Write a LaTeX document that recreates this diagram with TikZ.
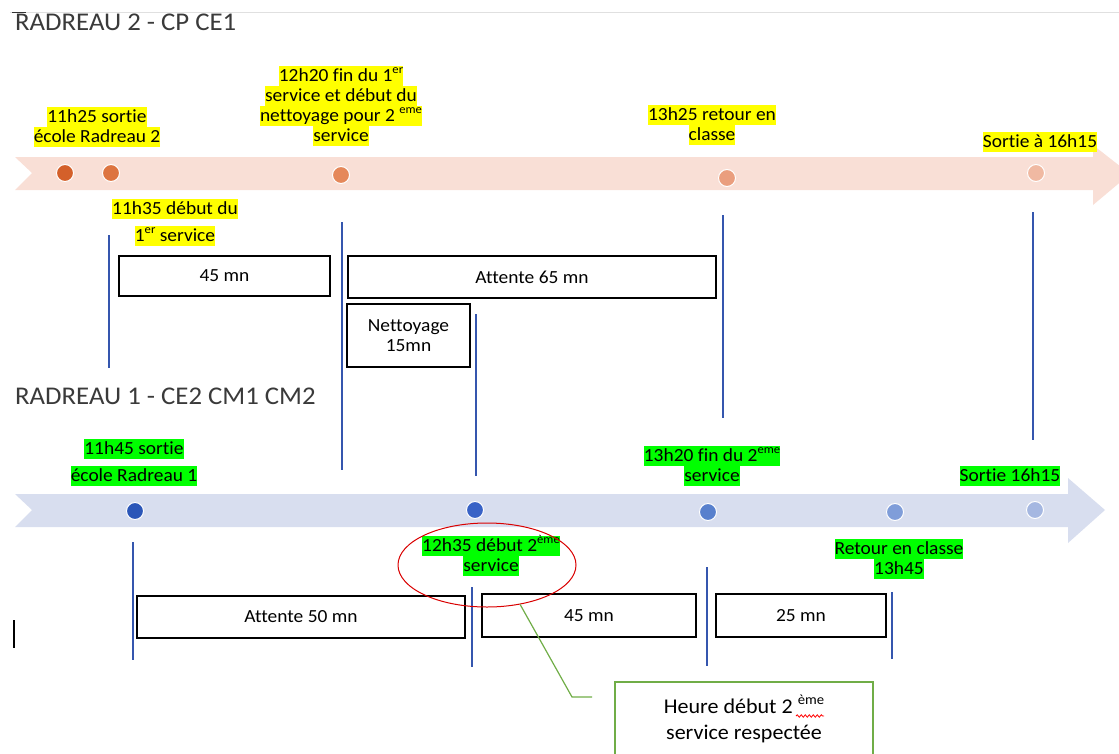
\documentclass[tikz,border=0pt]{standalone}
\usepackage{fontspec}
\setmainfont{Carlito}[Ligatures={NoCommon}, FakeStretch=1.05]
\usetikzlibrary{shapes.geometric,decorations.pathmorphing}
\definecolor{bandO}{HTML}{F9DFD6}
\definecolor{bandB}{HTML}{D8DEEF}
\definecolor{hlY}{HTML}{FFFF00}
\definecolor{hlG}{HTML}{00FF00}
\definecolor{vblue}{HTML}{3556AE}
\definecolor{cgreen}{HTML}{70AD47}
\definecolor{titlegray}{HTML}{3A3A3A}
\newcommand\lblfont{\fontsize{18.5}{20}\selectfont}
\newcommand\supr[1]{\raisebox{0.42em}{\fontsize{12}{12}\selectfont #1}}
\newcommand\suprbig[1]{\raisebox{0.42em}{\fontsize{14}{14}\selectfont #1}}
\newcommand\hly[1]{{\setlength{\fboxsep}{0pt}\colorbox{hlY}{\rule[-4.5pt]{0pt}{20pt}#1}}}
\newcommand\hlg[1]{{\setlength{\fboxsep}{0pt}\colorbox{hlG}{\rule[-4.5pt]{0pt}{20pt}#1}}}
\tikzset{
  lbl/.style={align=center, inner sep=0pt, font=\lblfont},
  ttl/.style={anchor=base west, inner sep=0pt, font=\fontsize{25.5}{28}\selectfont, text=titlegray},
  dot/.style={circle, minimum size=17pt, inner sep=0pt, draw=white, line width=1pt},
  vl/.style={draw=vblue, line width=1.3pt},
  dur/.style={draw=black, line width=1.2pt, fill=white, inner sep=0pt, font=\lblfont, align=center}
}
\begin{document}
\begin{tikzpicture}[x=1pt,y=-1pt]
\useasboundingbox (0,0) rectangle (1119,753);
\clip (0,0) rectangle (1119,753);
% top faint line
\draw[color=black!12, line width=1pt] (10,12) -- (1119,12);
\draw[color=black!80, line width=1pt] (12,12) -- (26,12);

% titles
\node[ttl] (t2) at (15,30) {RADREAU 2 - CP CE1};
\node[ttl] (t1) at (15,404) {RADREAU 1 - CE2 CM1 CM2};

% arrows (bands)
\fill[bandO] (15,157) -- (1093,157) -- (1093,145) -- (1130,174) -- (1093,205) -- (1093,190) -- (15,190) -- (32,173) -- cycle;
\fill[bandB] (15,494) -- (1068,494) -- (1068,478) -- (1105,510) -- (1068,543) -- (1068,527) -- (15,527) -- (32,510) -- cycle;

% dots top
\node[dot, fill={rgb,255:red,212;green,96;blue,42}] (a1) at (65,173) {};
\node[dot, fill={rgb,255:red,221;green,116;blue,64}] (a2) at (111,173) {};
\node[dot, fill={rgb,255:red,229;green,136;blue,90}] (a3) at (341,175) {};
\node[dot, fill={rgb,255:red,234;green,158;blue,126}] (a4) at (727,178) {};
\node[dot, fill={rgb,255:red,240;green,185;blue,162}] (a5) at (1036,173) {};
% dots bottom
\node[dot, fill={rgb,255:red,43;green,86;blue,184}] (b1) at (135,511) {};
\node[dot, fill={rgb,255:red,56;green,98;blue,198}] (b2) at (475,510) {};
\node[dot, fill={rgb,255:red,88;green,128;blue,205}] (b3) at (708,512) {};
\node[dot, fill={rgb,255:red,127;green,157;blue,217}] (b4) at (895,512) {};
\node[dot, fill={rgb,255:red,165;green,183;blue,225}] (b5) at (1035,510) {};

% top labels
\node[lbl] (l1125) at (97,127) {\hly{11h25 sortie}\\\hly{école Radreau 2}};
\node[lbl] (l1220) at (341,106) {\hly{12h20 fin du 1\supr{er}}\\\hly{service et début du}\\\hly{nettoyage pour 2 \supr{eme}}\\\hly{service}};
\node[lbl] (l1325) at (712,125) {\hly{13h25 retour en}\\\hly{classe}};
\node[lbl] (l1615a) at (1040,142) {\hly{Sortie à 16h15}};
\node[lbl] (l1135) at (175,222) {\hly{11h35 début du}\\[7pt]\hly{1\supr{er} service}};

% bottom labels
\node[lbl] (l1145) at (134,462) {\hlg{11h45 sortie}\\[7pt]\hlg{école Radreau 1}};
\node[lbl] (l1320) at (712,466) {\hlg{13h20 fin du 2\supr{eme}}\\\hlg{service}};
\node[lbl] (l1615b) at (1010,476) {\hlg{Sortie 16h15}};
\node[lbl] (l1235) at (491,556) {\hlg{12h35 début 2\supr{ème}}\\\hlg{service}};
\node[lbl] (l1345) at (899,559) {\hlg{Retour en classe}\\\hlg{13h45}};

% vertical lines top
\draw[vl] (109,235) -- (109,368);
\draw[vl] (342,222) -- (342,470);
\draw[vl] (476,314) -- (476,476);
\draw[vl] (723,215) -- (723,418);
\draw[vl] (1033,212) -- (1033,440);
% vertical lines bottom
\draw[vl] (133,542) -- (133,660);
\draw[vl] (472,587) -- (472,667);
\draw[vl] (707,567) -- (707,666);
\draw[vl] (892,592) -- (892,659);

% duration boxes top
\node[dur, minimum width=211pt, minimum height=40pt] (d45a) at (224.5,276) {45 mn};
\node[dur, minimum width=368pt, minimum height=42pt] (d65) at (532,277) {Attente 65 mn};
\node[dur, minimum width=123pt, minimum height=63pt] (dnet) at (408.5,335.5) {Nettoyage\\15mn};
% duration boxes bottom
\node[dur, minimum width=328pt, minimum height=42pt] (d50) at (301,617) {Attente 50 mn};
\node[dur, minimum width=214pt, minimum height=43pt] (d45b) at (589,615.5) {45 mn};
\node[dur, minimum width=170pt, minimum height=43pt] (d25) at (801,615.5) {25 mn};

% text cursor
\draw[black, line width=1.2pt] (14,620) -- (14,648);

% red ellipse
\node[draw=red!85!black, line width=1pt, ellipse, minimum width=178pt, minimum height=84pt, inner sep=0pt] (ell) at (487,565) {};

% callout
\node[draw=cgreen, line width=1.2pt, fill=white, minimum width=258pt, minimum height=100pt, inner sep=0pt] (call) at (744,732) {};
\node[lbl, font=\fontsize{21}{26}\selectfont] (calltxt) at (744,719) {Heure début 2 \suprbig{ème}\\service respectée};
\coordinate (ce) at (592,697);
\draw[cgreen, line width=1.2pt] (ell.-50) -- (572,697) -- (ce);
\draw[red, line width=0.8pt, decorate, decoration={snake, amplitude=1.2pt, segment length=4pt}] (796,716) -- (824,716);
\end{tikzpicture}
\end{document}
